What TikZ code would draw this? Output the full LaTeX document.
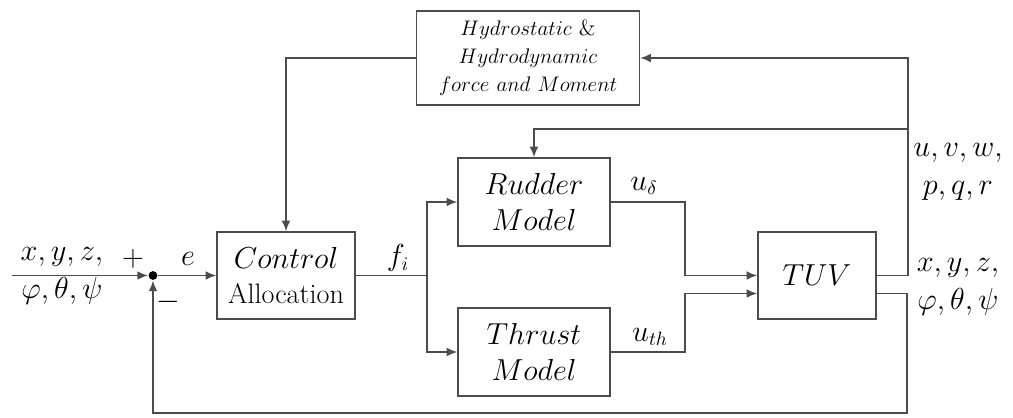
\documentclass[tikz,border=0pt]{standalone}
\usetikzlibrary{arrows.meta}
\begin{document}
\begin{tikzpicture}[x=0.02cm,y=-0.02cm,>={Latex[length=6pt,width=5pt]},line width=0.9pt,
  font=\fontsize{16}{20}\selectfont]
  \tikzstyle{block}=[draw=black!70, align=center, inner sep=0pt]
  \tikzstyle{wire}=[draw=black!70]
  \tikzstyle{lbl}=[inner sep=1pt, align=center]
  \useasboundingbox (0,0) rectangle (1013,418);
  % blocks
  \node[block, minimum width=4.46cm, minimum height=1.88cm,
    font=\fontsize{12.5}{16}\selectfont] (hydro) at (528,58)
    {$Hydrostatic$ \&\\ $Hydrodynamic$\\ $force\ and\ Moment$};
  \node[block, minimum width=2.76cm, minimum height=1.74cm] (ctrl) at (286,275.5)
    {$Control$\\ Allocation};
  \node[block, minimum width=3.04cm, minimum height=1.76cm] (rudder) at (534,202)
    {$Rudder$\\ $Model$};
  \node[block, minimum width=3.04cm, minimum height=1.76cm] (thrust) at (534,352)
    {$Thrust$\\ $Model$};
  \node[block, minimum width=2.36cm, minimum height=1.74cm] (tuv) at (817,275.5)
    {$TUV$};
  \node[circle, fill=black, inner sep=0pt, minimum size=5pt] (sum) at (153,275.5) {};
  % helper points
  \coordinate (in) at (12,275.5);
  \coordinate (split) at (427,275.5);
  \coordinate (tin2) at ([yshift=-0.36cm]tuv.west);
  \coordinate (tout2) at ([yshift=-0.36cm]tuv.east);
  \coordinate (branch) at (907,129);
  \coordinate (bottom) at (907,413);
  % connectors
  \draw[wire,->] (in) -- (sum);
  \draw[wire,->] (sum) -- (ctrl.west);
  \draw[wire] (ctrl.east) -- (split);
  \draw[wire,->] (split) |- (rudder.west);
  \draw[wire,->] (split) |- (thrust.west);
  \draw[wire,->] (rudder.east) -- ++(74,0) |- (tuv.west);
  \draw[wire,->] (thrust.east) -- ++(74,0) |- (tin2);
  \draw[wire,->] (tuv.east) -- ++(31,0) |- (hydro.east);
  \draw[wire,->] (branch) -| (rudder.north);
  \draw[wire,->] (hydro.west) -| (ctrl.north);
  \draw[wire,->] (tout2) -| (bottom) -| (sum.south);
  % labels
  \node[lbl] (lin) at (62,276) {$x,y,z,$\\[2pt] $\varphi,\theta,\psi$};
  \node[lbl] (plus) at (133,259) {$+$};
  \node[lbl] (minus) at (168,302) {$-$};
  \node[lbl] (le) at (188,259) {$e$};
  \node[lbl] (lf) at (398,258) {$f_i$};
  \node[lbl] (lud) at (644,186) {$u_\delta$};
  \node[lbl] (luth) at (650,337) {$u_{th}$};
  \node[lbl] (lvel) at (958,172) {$u,v,w,$\\[2pt] $p,q,r$};
  \node[lbl] (lpos) at (958,287) {$x,y,z,$\\[2pt] $\varphi,\theta,\psi$};
\end{tikzpicture}
\end{document}
